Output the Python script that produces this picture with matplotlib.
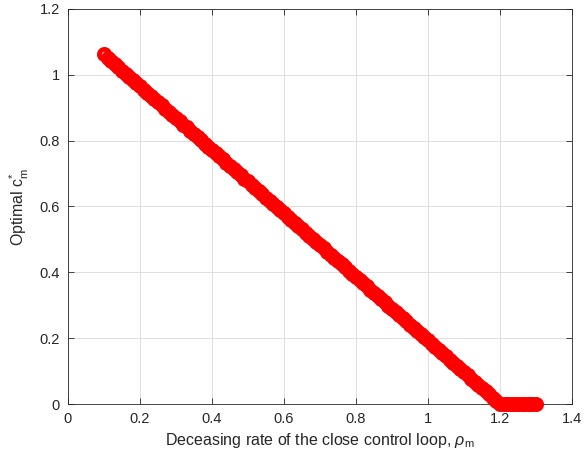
import numpy as np
import matplotlib
matplotlib.use("Agg")
import matplotlib.pyplot as plt

plt.rcParams['font.family'] = ['Liberation Sans', 'DejaVu Sans']
plt.rcParams['mathtext.fontset'] = 'custom'
plt.rcParams['mathtext.rm'] = 'Liberation Sans'
plt.rcParams['mathtext.it'] = 'Liberation Sans:italic'

# decreasing rate of the closed control loop (sweep 0.10 .. 1.30, step 0.01)
rho_m = np.linspace(0.10, 1.30, 121)

# optimal c_m* for each rho_m
c_opt = [
    1.062, 1.052, 1.042, 1.033, 1.023, 1.013, 1.004, 0.994, 0.984, 0.975,
    0.965, 0.955, 0.946, 0.936, 0.926, 0.917, 0.907, 0.897, 0.888, 0.878,
    0.869, 0.859, 0.849, 0.840, 0.830, 0.820, 0.811, 0.801, 0.791, 0.782,
    0.772, 0.762, 0.753, 0.743, 0.733, 0.724, 0.714, 0.704, 0.695, 0.685,
    0.676, 0.666, 0.656, 0.647, 0.637, 0.627, 0.618, 0.608, 0.598, 0.589,
    0.579, 0.569, 0.560, 0.550, 0.540, 0.531, 0.521, 0.511, 0.502, 0.492,
    0.483, 0.473, 0.463, 0.454, 0.444, 0.434, 0.425, 0.415, 0.405, 0.396,
    0.386, 0.376, 0.367, 0.357, 0.347, 0.338, 0.328, 0.318, 0.309, 0.299,
    0.290, 0.280, 0.270, 0.261, 0.251, 0.241, 0.232, 0.222, 0.212, 0.203,
    0.193, 0.183, 0.174, 0.164, 0.154, 0.145, 0.135, 0.125, 0.116, 0.106,
    0.097, 0.087, 0.077, 0.068, 0.058, 0.048, 0.039, 0.029, 0.019, 0.010,
    0.000,
    0.000, 0.000, 0.000, 0.000, 0.000, 0.000, 0.000, 0.000, 0.000, 0.000,
]

x_ticks = [0, 0.2, 0.4, 0.6, 0.8, 1.0, 1.2, 1.4]
x_tick_labels = ['0', '0.2', '0.4', '0.6', '0.8', '1', '1.2', '1.4']
y_ticks = [0, 0.2, 0.4, 0.6, 0.8, 1.0, 1.2]
y_tick_labels = ['0', '0.2', '0.4', '0.6', '0.8', '1', '1.2']

fig = plt.figure(figsize=(5.84, 4.63), dpi=100)
ax = fig.add_axes([0.1164, 0.1274, 0.8631, 0.8532])

ax.plot(rho_m, c_opt, linestyle='none', marker='o', markersize=7.3,
        markeredgewidth=3.5, markeredgecolor='#ff0000', markerfacecolor='none',
        clip_on=False, zorder=3)

ax.set_xlim(0, 1.4)
ax.set_ylim(0, 1.2)
ax.set_xticks(x_ticks)
ax.set_xticklabels(x_tick_labels)
ax.set_yticks(y_ticks)
ax.set_yticklabels(y_tick_labels)

ax.grid(True, color='#dfdfdf', linewidth=0.7)
ax.set_axisbelow(True)
ax.tick_params(direction='in', top=True, right=True, length=4, width=0.6,
               colors='#262626', labelsize=10.5, pad=6)
for s in ax.spines.values():
    s.set_color('#262626')
    s.set_linewidth(0.6)

ax.set_xlabel(r'Deceasing rate of the close control loop, $\it{\rho}_{\rm m}$',
              fontsize=11.5, color='#262626', labelpad=3)
ax.set_ylabel(r'Optimal c$_{\rm m}^{*}$', fontsize=11.5, color='#262626',
              labelpad=6)

fig.savefig('out.png', dpi=100)
